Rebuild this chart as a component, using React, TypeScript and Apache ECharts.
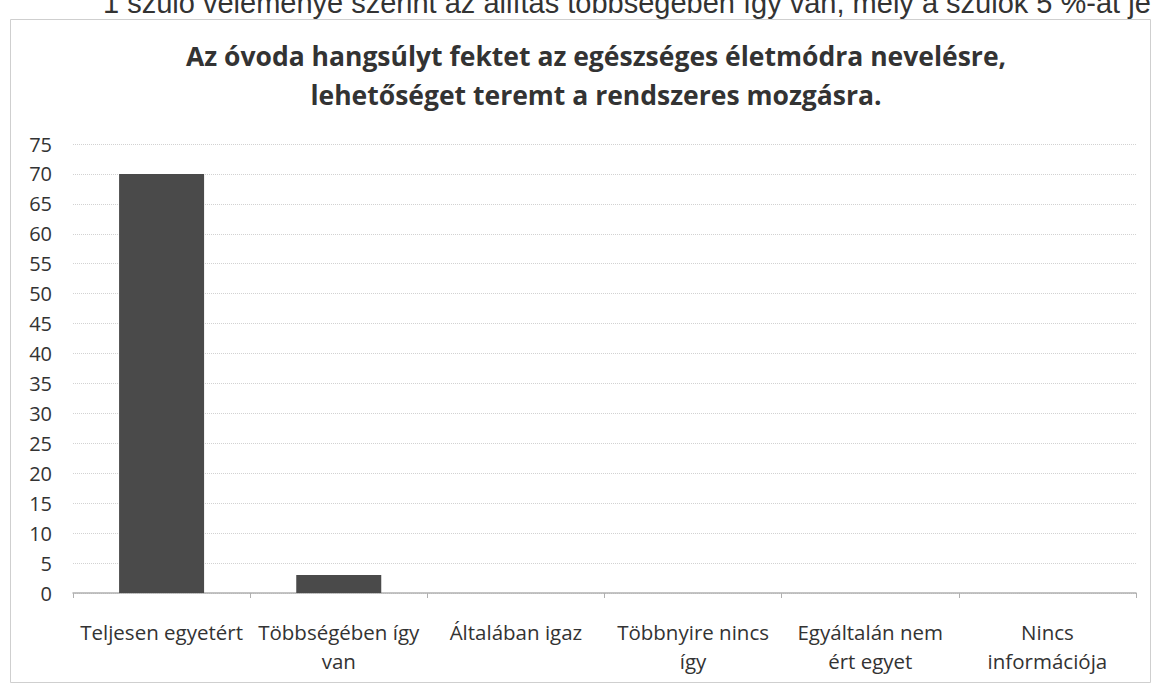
import React, { useEffect, useRef } from "react";
import * as echarts from "echarts";

const categories = [
  "Teljesen egyetért",
  "Többségében így\nvan",
  "Általában igaz",
  "Többnyire nincs\nígy",
  "Egyáltalán nem\nért egyet",
  "Nincs\ninformációja",
];
const values = [70, 3, 0, 0, 0, 0];
const titleLines = [
  "Az óvoda hangsúlyt fektet az egészséges életmódra nevelésre,",
  "lehetőséget teremt a rendszeres mozgásra.",
];
const topCutText =
  "1 szülő véleménye szerint az állítás többségében így van, mely a szülők 5 %-át jelenti.";
const yMin = 0;
const yMax = 75;
const yInterval = 5;

export default function App() {
  const ref = useRef<HTMLDivElement>(null);
  useEffect(() => {
    if (!ref.current) return;
    const chart = echarts.init(ref.current, null, { renderer: "svg" });
    chart.setOption({
      animation: false,
      backgroundColor: "#ffffff",
      title: {
        text: titleLines.join("\n"),
        left: 591,
        textAlign: "center",
        top: 31,
        textStyle: {
          fontFamily: "Open Sans",
          fontWeight: "bold",
          fontSize: 26.5,
          lineHeight: 39,
          color: "#333333",
        },
      },
      graphic: [
        {
          type: "rect",
          shape: { x: 10.5, y: 19.5, width: 1140, height: 663 },
          style: { fill: "none", stroke: "#cfcfcf", lineWidth: 1 },
          silent: true,
        },
        {
          type: "text",
          x: 103,
          y: -12,
          style: {
            text: topCutText,
            font: "29px 'Liberation Sans'",
            fill: "#333333",
          },
          silent: true,
        },
      ],
      grid: { left: 73, right: 15, top: 144, bottom: 93, containLabel: false },
      xAxis: {
        type: "category",
        data: categories,
        axisLine: { lineStyle: { color: "#b0b0b0", width: 1.5 } },
        axisTick: { show: true, length: 5, lineStyle: { color: "#b0b0b0" } },
        axisLabel: {
          interval: 0,
          margin: 24,
          fontFamily: "Open Sans",
          fontSize: 20.5,
          lineHeight: 29,
          color: "#333333",
        },
      },
      yAxis: {
        type: "value",
        min: yMin,
        max: yMax,
        interval: yInterval,
        axisLine: { show: false },
        axisTick: { show: false },
        axisLabel: {
          margin: 21,
          fontFamily: "Open Sans",
          fontSize: 20,
          color: "#333333",
        },
        splitLine: { lineStyle: { color: "#d2d2d2", width: 1, type: "dotted" } },
      },
      series: [
        {
          type: "bar",
          data: values,
          barWidth: 85,
          itemStyle: { color: "#4a4a4a", borderWidth: 0 },
        },
      ],
    });
    return () => chart.dispose();
  }, []);
  return (
    <div
      ref={ref}
      style={{ position: "fixed", left: 0, top: 0, width: 1151, height: 686 }}
    />
  );
}
